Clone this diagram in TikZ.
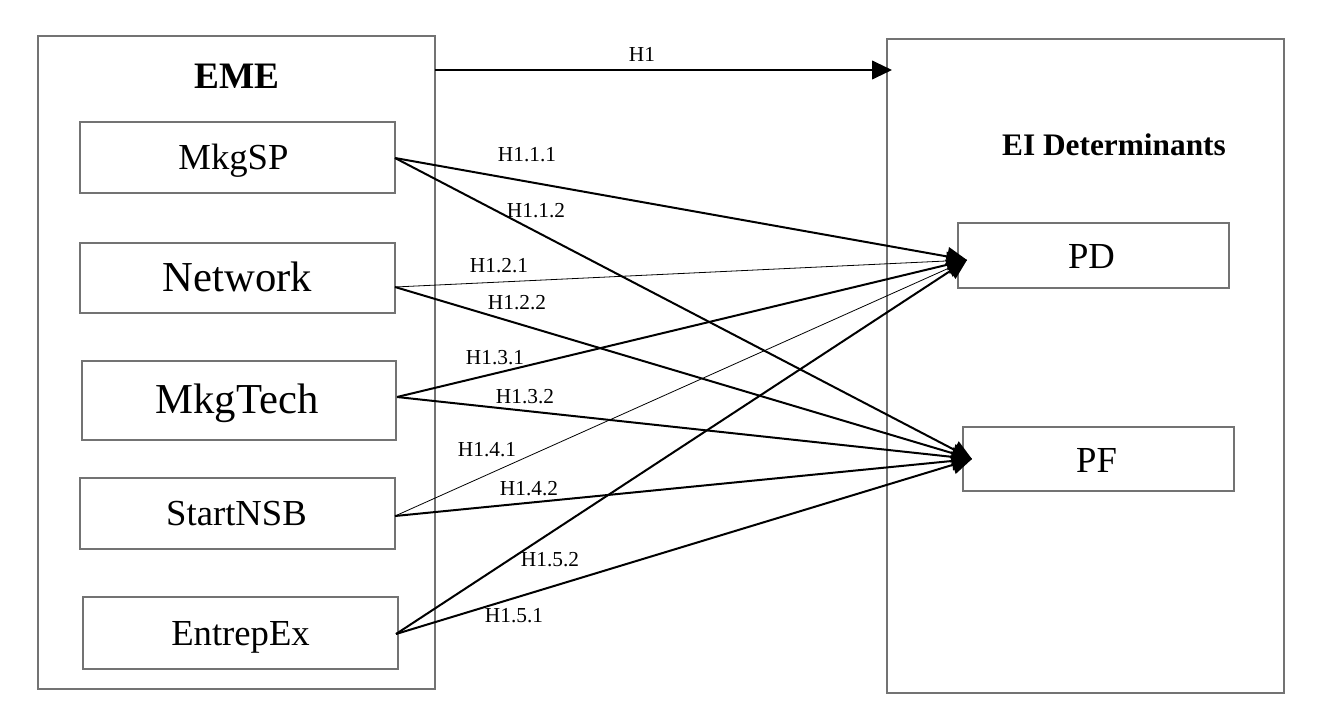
\documentclass[tikz,border=0pt]{standalone}
\usepackage{fontspec}
\setmainfont{Liberation Serif}
\usetikzlibrary{arrows.meta,calc,fit}
\begin{document}
\begin{tikzpicture}[x=0.75pt,y=-0.75pt,
  frame/.style={draw=black!55, line width=1.1pt, inner sep=0pt},
  var/.style={inner sep=0pt, font=\fontsize{27.5}{32}\selectfont},
  bigvar/.style={inner sep=0pt, font=\fontsize{32}{36}\selectfont},
  title/.style={font=\fontsize{28}{32}\selectfont\bfseries, inner sep=0pt},
  hyp/.style={font=\fontsize{16}{18}\selectfont, inner sep=0pt},
  tip/.style={-{Triangle[length=15pt,width=14pt]}},
  conn/.style={tip, line width=1.5pt},
  weak/.style={tip, line width=0.6pt}]
\useasboundingbox (0,0) rectangle (1323,714);

% outer groups
\node[frame, fit={(38,36)(435,689)}] (eme) {};
\node[frame, fit={(887,39)(1284,693)}] (eid) {};
\node[title] (emet) at (237,76) {EME};
\node[title, font=\fontsize{23.5}{28}\selectfont\bfseries] (eidt) at (1114,145) {EI Determinants};

% EME components: frames, then their names
\node[frame, fit={(80,122)(395,193)}] (mkgsp) {};
\node[frame, fit={(80,243)(395,313)}] (net) {};
\node[frame, fit={(82,361)(396,440)}] (mkgtech) {};
\node[frame, fit={(80,478)(395,549)}] (startnsb) {};
\node[frame, fit={(83,597)(398,669)}] (entrep) {};
\node[var, anchor=base] (mkgsp-t) at ($(mkgsp.center)+(-4,12)$) {MkgSP};
\node[bigvar, anchor=base] (net-t) at ($(net.center)+(0,13)$) {Network};
\node[bigvar, anchor=base] (mkgtech-t) at ($(mkgtech.center)+(-2,13)$) {MkgTech};
\node[var, anchor=base] (startnsb-t) at ($(startnsb.center)+(-1,12)$) {StartNSB};
\node[var, anchor=base] (entrep-t) at ($(entrep.center)+(0,12)$) {EntrepEx};

% EI determinants
\node[frame, fit={(958,223)(1229,288)}] (pd) {};
\node[frame, fit={(963,427)(1234,491)}] (pf) {};
\node[var, anchor=base] (pd-t) at ($(pd.center)+(-2,13)$) {PD};
\node[var, anchor=base] (pf-t) at ($(pf.center)+(-2,13)$) {PF};

% connector end points
\coordinate (s1) at (395,158);
\coordinate (s2) at (395,287);
\coordinate (s3) at (397,397);
\coordinate (s4) at (395,516);
\coordinate (s5) at (396,634);
\coordinate (pdtip) at (967,260);
\coordinate (pftip) at (972,459);
\coordinate (h1a) at (435,70);
\coordinate (h1b) at (892,70);

% overall hypothesis
\draw[conn] (h1a) -- (h1b);
\node[hyp] (lh1) at (642,54) {H1};

% hypotheses per component
\draw[conn] (s1) -- (pdtip);
\draw[conn] (s1) -- (pftip);
\draw[weak] (s2) -- (pdtip);
\draw[conn] (s2) -- (pftip);
\draw[conn] (s3) -- (pdtip);
\draw[conn] (s3) -- (pftip);
\draw[weak] (s4) -- (pdtip);
\draw[conn] (s4) -- (pftip);
\draw[conn] (s5) -- (pdtip);
\draw[conn] (s5) -- (pftip);

\node[hyp] (l111) at (527,155) {H1.1.1};
\node[hyp] (l112) at (536,211) {H1.1.2};
\node[hyp] (l121) at (499,266) {H1.2.1};
\node[hyp] (l122) at (517,303) {H1.2.2};
\node[hyp] (l131) at (495,358) {H1.3.1};
\node[hyp] (l132) at (525,397) {H1.3.2};
\node[hyp] (l141) at (487,450) {H1.4.1};
\node[hyp] (l142) at (529,489) {H1.4.2};
\node[hyp] (l152) at (550,560) {H1.5.2};
\node[hyp] (l151) at (514,616) {H1.5.1};
\end{tikzpicture}
\end{document}
